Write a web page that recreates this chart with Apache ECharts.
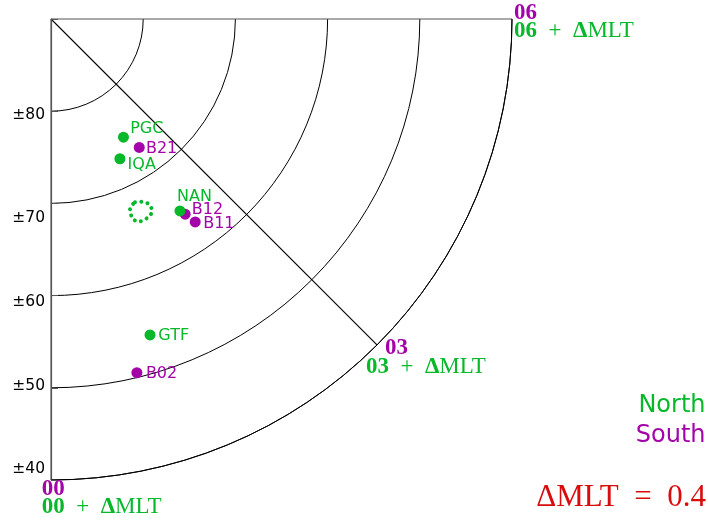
<!DOCTYPE html>
<html>
<head>
<meta charset="utf-8">
<script src="https://cdn.jsdelivr.net/npm/echarts@6/dist/echarts.min.js"></script>
<style>
  html, body { margin: 0; padding: 0; background: #fff; }
  #chart { width: 708px; height: 521px; }
</style>
</head>
<body>
<div id="chart"></div>
<script>
// Magnetometer stations: |magnetic latitude| in degrees, magnetic local time in hours
const northStations = ['PGC', 'IQA', 'NAN', 'GTF'];
const northLat = [74.96, 73.10, 64.92, 54.09];
const northMlt = [2.10, 1.75, 2.26, 1.16];

const southStations = ['B21', 'B12', 'B11', 'B02'];
const southLat = [73.10, 64.31, 63.00, 50.53];
const southMlt = [2.30, 2.30, 2.36, 0.91];

// Closed footprint contour in the north (latitude, MLT)
const contourLat = [68.13, 67.96, 67.61, 67.15, 66.55, 66.15, 66.02, 65.98, 66.13, 66.57, 67.12, 67.68, 68.01, 68.13];
const contourMlt = [1.641, 1.731, 1.827, 1.868, 1.863, 1.797, 1.710, 1.612, 1.528, 1.481, 1.480, 1.505, 1.564, 1.641];

// Grid ticks
const latTicks = [80, 70, 60, 50, 40];
const mltTicks = [0, 3, 6];
const mltTickLabels = ['00', '03', '06'];
const deltaMlt = 0.4;

const GREEN = '#08b82b';
const PURPLE = '#a303a9';
const RED = '#d80c0c';
const SERIF = 'Liberation Serif';
const SANS = 'DejaVu Sans';
const EN = '\u2002';

// Text placement around each marker: [dx from centre to text start, dy of text middle]
const stationLabelOffset = {
  PGC: [6.7, -8.5], IQA: [7.7, 6.3], NAN: [-3, -14], GTF: [8.3, 0.5],
  B21: [6.7, 1], B12: [6.7, -4.8], B11: [8, 2.3], B02: [9, 1]
};
// Text placement of the MLT labels at the rim
const southMltLabelOffset = { '00': [-9.3, 9], '03': [8, 3], '06': [2, -6] };
const northMltLabelOffset = { '00': [-9.3, 27], '03': [-11, 21.7], '06': [2, 12] };
// Vertical nudges of the latitude labels
const latLabelShift = { 80: 3.5, 70: 14.5, 60: 6, 50: -2, 40: -11 };

function stationData(names, lats, mlts) {
  return names.map((n, i) => ({
    name: n,
    value: [lats[i], mlts[i]],
    label: { offset: stationLabelOffset[n] }
  }));
}

const latRich = {};
latTicks.forEach(v => {
  const s = latLabelShift[v];
  latRich['l' + v] = {
    fontSize: 15.5, fontFamily: SANS, color: '#000',
    padding: s >= 0 ? [2 * s, 0, 0, 0] : [0, 0, -2 * s, 0]
  };
});

const chart = echarts.init(document.getElementById('chart'), null, { renderer: 'canvas' });

const stationLabel = color => ({
  show: true, position: 'inside', align: 'left', verticalAlign: 'middle',
  formatter: p => p.name, color: color, fontSize: 16, fontFamily: SANS
});

chart.setOption({
  animation: false,
  backgroundColor: '#fff',
  polar: { center: [51, 19], radius: 461 },
  angleAxis: {
    type: 'value', min: 0, max: 6, interval: 3,
    startAngle: -90, endAngle: 0, clockwise: false,
    axisLine: { show: true, lineStyle: { color: '#000', width: 1 } },
    axisTick: { show: false },
    axisLabel: { show: false },
    splitLine: { show: true, lineStyle: { color: ['#555', '#000', '#555'], width: 1.1 } }
  },
  radiusAxis: {
    type: 'value', min: 40, max: 90, interval: 10, inverse: true,
    axisLine: { show: true, lineStyle: { color: '#555', width: 1.2 } },
    axisTick: { show: true, length: 7, lineStyle: { color: '#555' } },
    axisLabel: {
      show: true, margin: -6, align: 'right',
      formatter: v => (latTicks.indexOf(v) < 0 ? '' : '{l' + v + '|\u00b1' + v + '}'),
      rich: latRich
    },
    splitLine: { show: true, lineStyle: { color: '#000', width: 1 } }
  },
  legend: {
    data: [
      { name: 'North', textStyle: { color: GREEN } },
      { name: 'South', textStyle: { color: PURPLE } }
    ],
    orient: 'vertical', align: 'right', right: -3.5, top: 391,
    itemWidth: 0, itemHeight: 0, itemGap: 0, padding: 0,
    selectedMode: false,
    textStyle: { fontSize: 24, fontFamily: SANS, lineHeight: 30 }
  },
  title: {
    text: '\u0394MLT' + EN + '=' + EN + deltaMlt.toFixed(1),
    right: 2, top: 482, padding: 0,
    textStyle: { fontFamily: SERIF, fontSize: 31, fontWeight: 'normal', color: RED }
  },
  series: [
    {
      name: 'North', type: 'line', coordinateSystem: 'polar',
      data: contourLat.map((v, i) => [v, contourMlt[i]]),
      symbol: 'none', z: 3,
      lineStyle: { color: GREEN, width: 4, type: [0.01, 6.4], cap: 'round' }
    },
    {
      name: 'South', type: 'scatter', coordinateSystem: 'polar',
      data: stationData(southStations, southLat, southMlt),
      symbol: 'circle', symbolSize: 11, z: 4,
      itemStyle: { color: PURPLE, opacity: 1 },
      label: stationLabel(PURPLE)
    },
    {
      name: 'North', type: 'scatter', coordinateSystem: 'polar',
      data: stationData(northStations, northLat, northMlt),
      symbol: 'circle', symbolSize: 11, z: 5,
      itemStyle: { color: GREEN, opacity: 1 },
      label: stationLabel(GREEN)
    },
    {
      name: 'mlt-south', type: 'scatter', coordinateSystem: 'polar',
      data: mltTicks.map((m, i) => ({
        name: mltTickLabels[i], value: [40, m],
        label: { offset: southMltLabelOffset[mltTickLabels[i]] }
      })),
      symbolSize: 0.01, itemStyle: { color: 'transparent', opacity: 1 }, silent: true, z: 6,
      label: {
        show: true, position: 'inside', align: 'left', verticalAlign: 'middle',
        formatter: p => p.name, color: PURPLE, fontSize: 23, fontFamily: SERIF, fontWeight: 'bold'
      }
    },
    {
      name: 'mlt-north', type: 'scatter', coordinateSystem: 'polar',
      data: mltTicks.map((m, i) => ({
        name: mltTickLabels[i], value: [40, m],
        label: { offset: northMltLabelOffset[mltTickLabels[i]] }
      })),
      symbolSize: 0.01, itemStyle: { color: 'transparent', opacity: 1 }, silent: true, z: 6,
      label: {
        show: true, position: 'inside', align: 'left', verticalAlign: 'middle',
        formatter: p => '{b|' + p.name + '}' + EN + '+' + EN + '{b|\u0394}MLT',
        color: GREEN, fontSize: 23, fontFamily: SERIF,
        rich: { b: { fontWeight: 'bold', color: GREEN, fontSize: 23, fontFamily: SERIF } }
      }
    }
  ]
});
</script>
</body>
</html>
